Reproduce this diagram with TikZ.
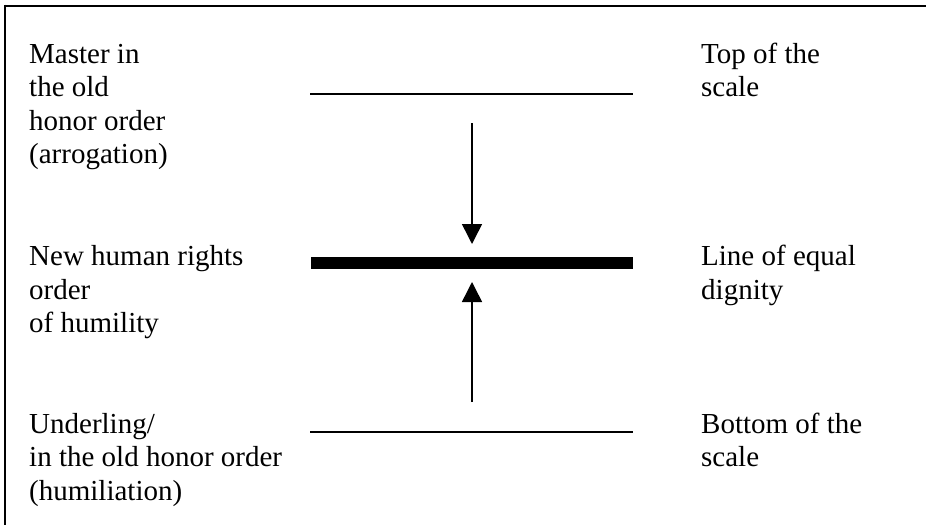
\documentclass[tikz,border=0pt]{standalone}
\usepackage{fontspec}
\setmainfont{Liberation Serif}
\usetikzlibrary{arrows.meta}
\begin{document}
\begin{tikzpicture}[x=1pt,y=-1pt,
  lbl/.style={anchor=base west,align=left,inner sep=0pt,font=\fontsize{29}{33.5}\selectfont},
  scaleline/.style={line width=1.5pt},
  equalline/.style={line width=12pt},
  pointer/.style={line width=1.5pt,-{Triangle[width=20pt,length=20pt]}},
  frame/.style={line width=2pt}]
\useasboundingbox (0,0) rectangle (926,525);
% frame (top and left edges)
\coordinate (fA) at (4,5.5);
\coordinate (fB) at (926,5.5);
\coordinate (fC) at (5,4.5);
\coordinate (fD) at (5,525);
\draw[frame] (fA) -- (fB);
\draw[frame] (fC) -- (fD);
% scale lines
\coordinate (t1) at (310,94);
\coordinate (t2) at (633,94);
\coordinate (m1) at (311,263);
\coordinate (m2) at (633,263);
\coordinate (b1) at (310,432);
\coordinate (b2) at (633,432);
\draw[scaleline] (t1) -- (t2);
\draw[equalline] (m1) -- (m2);
\draw[scaleline] (b1) -- (b2);
% arrows
\coordinate (dA) at (472,123);
\coordinate (dB) at (472,244);
\coordinate (uA) at (472,402);
\coordinate (uB) at (472,282);
\draw[pointer] (dA) -- (dB);
\draw[pointer] (uA) -- (uB);
% labels (anchored at the baseline of their last line)
\node[lbl] (master) at (29,163.5) {Master in\\the old\\honor order\\(arrogation)};
\node[lbl] (newhr) at (29,332.5) {New human rights\\order\\of humility};
\node[lbl] (under) at (29,500) {Underling/\\in the old honor order\\(humiliation)};
\node[lbl] (top) at (701,96.5) {Top of the\\scale};
\node[lbl] (equal) at (701,299) {Line of equal\\dignity};
\node[lbl] (bottom) at (701,466.5) {Bottom of the\\scale};
\end{tikzpicture}
\end{document}
